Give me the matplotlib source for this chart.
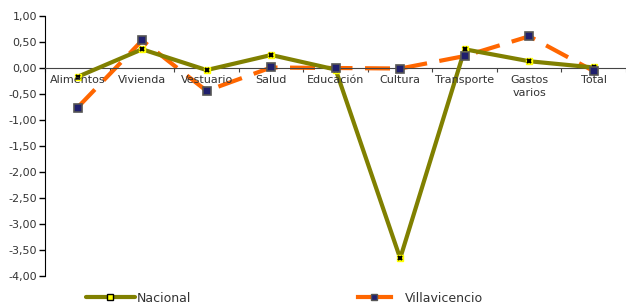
import matplotlib
matplotlib.use("Agg")
import matplotlib.pyplot as plt
from matplotlib.lines import Line2D
import numpy as np

categories = ["Alimentos", "Vivienda", "Vestuario", "Salud", "Educación",
              "Cultura", "Transporte", "Gastos\nvarios", "Total"]
nacional = [-0.17, 0.36, -0.04, 0.25, -0.03, -3.66, 0.36, 0.13, 0.01]
villavicencio = [-0.76, 0.53, -0.44, 0.01, 0.00, -0.01, 0.23, 0.61, -0.06]
yticks = [1.0, 0.5, 0.0, -0.5, -1.0, -1.5, -2.0, -2.5, -3.0, -3.5, -4.0]

W, H = 626, 303
fig = plt.figure(figsize=(W/100, H/100), dpi=100)
left, right = 45.3/W, 1.0
bottom, top = 1 - 276/H, 1 - 16/H
ax = fig.add_axes([left, bottom, right-left, top-bottom])

x = np.arange(len(categories))
olive = "#808000"
orange = "#FF6600"

ax.plot(x, nacional, color=olive, lw=3.0, solid_capstyle="round", zorder=3)
ax.plot(x, nacional, ls="none", marker="s", ms=4.5, mfc="#FFFF00", mec="#FFFF00", zorder=3)
ax.plot(x, nacional, ls="none", marker="x", ms=3.5, mec="black", mew=1.5, zorder=4)

ax.plot(x, villavicencio, color=orange, lw=3.0, ls=(0, (6, 3)), zorder=2)
ax.plot(x, villavicencio, ls="none", marker="s", ms=5.5, mfc="#1F1F6E", mec="#555555", mew=1.2, zorder=5)

ax.set_xlim(-0.5, -0.5 + (W - 45.3)/64.8)
ax.set_ylim(-4.0, 1.0)
ax.set_yticks(yticks)
ax.set_yticklabels([f"{v:.2f}".replace(".", ",") for v in yticks], fontsize=8, color="#333333")
ax.tick_params(axis="y", length=4, width=1, direction="out", pad=2)

ax.spines["top"].set_visible(False)
ax.spines["right"].set_visible(False)
ax.spines["bottom"].set_position(("data", 0))
ax.spines["bottom"].set_color("#444444")
ax.spines["left"].set_color("black")

ax.set_xticks(np.arange(len(categories) + 1) - 0.5)
ax.set_xticklabels([])
ax.tick_params(axis="x", length=3, direction="out", color="#444444")
for xi, c in zip(x, categories):
    ax.text(xi, -0.14, c, ha="center", va="top", fontsize=8, color="#333333",
            linespacing=1.3, zorder=6)

h1 = Line2D([], [], color=olive, lw=3.0, solid_capstyle="round",
            marker="s", ms=4, mfc="#FFFF00", mec="black")
h2 = Line2D([], [], color=orange, lw=3.0, marker="s", ms=4, mfc="#1F1F6E", mec="#555555")
fig.legend([h1], ["Nacional"], loc="center left", bbox_to_anchor=(86/W, 1 - 298/H),
           frameon=False, fontsize=9, handlelength=3.9, handletextpad=0.15,
           labelcolor="#333333", borderpad=0, borderaxespad=0)
fig.legend([h2], ["Villavicencio"], loc="center left", bbox_to_anchor=(358/W, 1 - 298/H),
           frameon=False, fontsize=9, handlelength=2.6, handletextpad=1.15,
           labelcolor="#333333", borderpad=0, borderaxespad=0)

fig.savefig("out.png", dpi=100)
